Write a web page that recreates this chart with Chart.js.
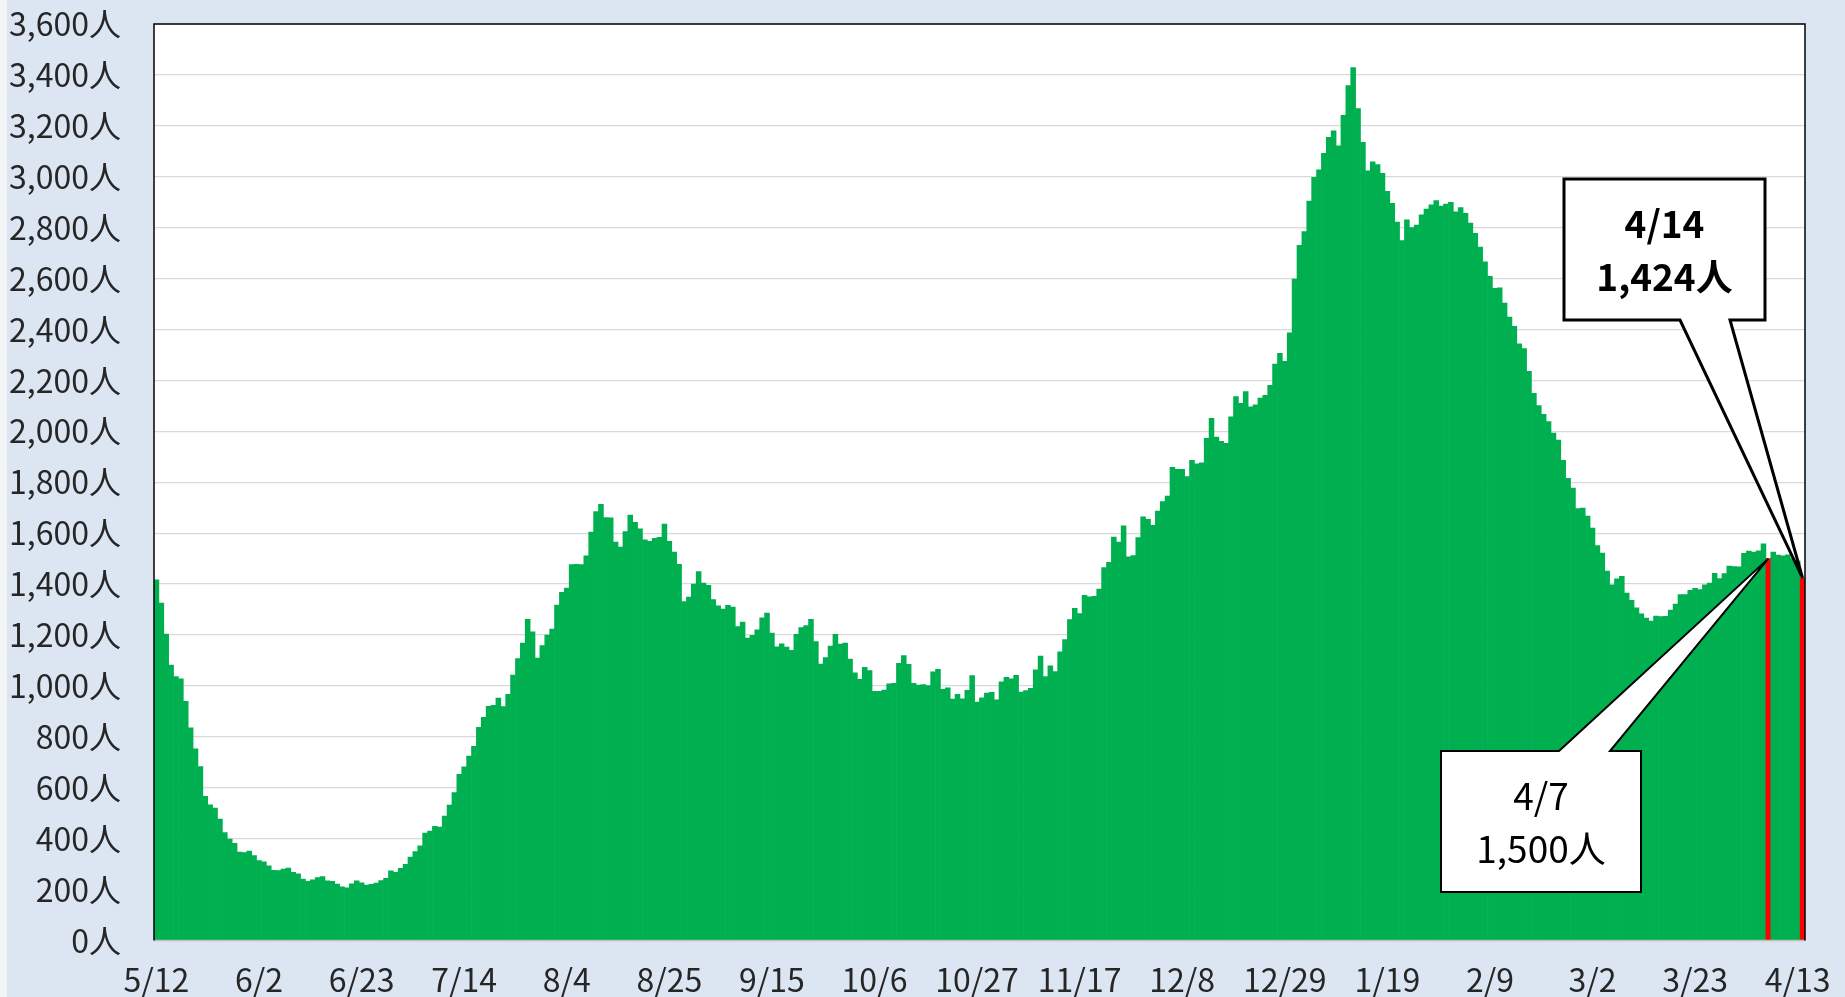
<!DOCTYPE html>
<html lang="ja">
<head>
<meta charset="utf-8">
<title>daily chart</title>
<script src="https://cdn.jsdelivr.net/npm/chart.js@4.4.1/dist/chart.umd.min.js"></script>
<style>
html, body { margin: 0; padding: 0; background: #DCE6F2; }
#wrap { width: 1845px; height: 997px; }
</style>
</head>
<body>
<div id="wrap"><canvas id="barchart" width="1845" height="997"></canvas></div>
<script>
// first day of the series (5/12), one bar per day
var startDay = [2020, 5, 12];

// values per month
var may = [1417, 1325, 1204, 1082, 1037, 1028, 939, 835, 753, 683, 566, 533, 520, 477, 424, 398, 382, 347, 345, 351];
var jun = [334, 314, 309, 293, 276, 275, 281, 284, 268, 262, 241, 232, 238, 247, 251, 234, 232, 222, 211, 207,
	223, 234, 227, 218, 221, 226, 235, 244, 274, 268];
var jul = [283, 299, 328, 349, 372, 422, 430, 448, 446, 489, 532, 581, 653, 682, 724, 763, 837, 877, 920, 924,
	952, 919, 967, 1043, 1107, 1168, 1262, 1212, 1109, 1158, 1200];
var aug = [1223, 1318, 1368, 1384, 1477, 1478, 1477, 1511, 1604, 1685, 1713, 1661, 1660, 1565, 1545, 1606, 1671, 1643, 1617, 1574,
	1568, 1580, 1584, 1636, 1568, 1526, 1478, 1331, 1349, 1400, 1449];
var sep = [1404, 1395, 1339, 1315, 1302, 1317, 1310, 1233, 1251, 1188, 1199, 1220, 1267, 1286, 1208, 1154, 1165, 1153, 1140, 1203,
	1229, 1237, 1262, 1174, 1086, 1111, 1156, 1203, 1164, 1168];
var oct = [1105, 1051, 1026, 1073, 1060, 979, 979, 984, 1008, 1010, 1089, 1119, 1085, 1010, 1003, 1005, 1001, 1055, 1065, 987,
	992, 948, 967, 949, 983, 1041, 937, 953, 972, 975, 945];
var nov = [1016, 1034, 1028, 1042, 976, 982, 991, 1063, 1117, 1037, 1079, 1056, 1134, 1182, 1261, 1305, 1284, 1356, 1350, 1352,
	1380, 1465, 1485, 1585, 1565, 1629, 1507, 1512, 1583, 1664];
var dec = [1654, 1631, 1687, 1724, 1746, 1859, 1851, 1851, 1822, 1886, 1872, 1876, 1973, 2051, 1977, 1961, 1953, 2057, 2137, 2110,
	2156, 2096, 2104, 2131, 2141, 2181, 2264, 2306, 2275, 2387, 2598];
var jan = [2731, 2785, 2904, 2998, 3027, 3092, 3155, 3180, 3121, 3241, 3358, 3429, 3268, 3135, 3023, 3059, 3048, 3013, 2943, 2896,
	2822, 2749, 2831, 2800, 2810, 2850, 2873, 2890, 2906, 2885, 2893];
var feb = [2900, 2862, 2879, 2856, 2818, 2778, 2724, 2666, 2609, 2562, 2564, 2504, 2449, 2412, 2344, 2325, 2236, 2149, 2101, 2067,
	2038, 1993, 1966, 1886, 1815, 1777, 1697, 1699];
var mar = [1667, 1620, 1551, 1522, 1451, 1397, 1421, 1430, 1365, 1336, 1307, 1283, 1266, 1255, 1274, 1272, 1273, 1298, 1321, 1359,
	1359, 1375, 1383, 1378, 1397, 1404, 1442, 1422, 1441, 1471, 1469];
var apr = [1468, 1521, 1530, 1526, 1531, 1558, 1500, 1526, 1514, 1511, 1515, 1500, 1490, 1424];

var tickLabels = ['5/12', '6/2', '6/23', '7/14', '8/4', '8/25', '9/15', '10/6', '10/27', '11/17', '12/8', '12/29',
	'1/19', '2/9', '3/2', '3/23', '4/13'];
var highlightDays = ['4/7', '4/14'];

var values = [].concat(may, jun, jul, aug, sep, oct, nov, dec, jan, feb, mar, apr);

var days = [];
for (var i = 0; i < values.length; i++) {
	var d = new Date(Date.UTC(startDay[0], startDay[1] - 1, startDay[2] + i));
	days.push((d.getUTCMonth() + 1) + '/' + d.getUTCDate());
}

var colors = days.map(function(d) {
	return highlightDays.indexOf(d) >= 0 ? '#FF0000' : '#00B050';
});

var fontFamily = "'Noto Sans CJK JP', 'Noto Sans', sans-serif";

function fmt(v) {
	return v.toLocaleString('en-US') + '人';
}

// callout boxes (pixel layout), pointing at the highlighted bars
var callouts = [
	{ day: '4/14', bold: true, lineWidth: 3, box: [1564, 179, 1765, 320], base: [1680, 1730], side: 'bottom' },
	{ day: '4/7', bold: false, lineWidth: 2, box: [1441, 751, 1641, 892], base: [1559, 1610], side: 'top' }
];

var framePlugin = {
	id: 'frame',
	beforeDraw: function(chart) {
		var ctx = chart.ctx, a = chart.chartArea;
		ctx.save();
		ctx.fillStyle = '#DCE6F2';
		ctx.fillRect(0, 0, chart.width, chart.height);
		ctx.fillStyle = '#F3F4F6';
		ctx.fillRect(0, 0, 7, chart.height);
		ctx.fillStyle = '#FFFFFF';
		ctx.fillRect(a.left, a.top, a.right - a.left, a.bottom - a.top);
		ctx.restore();
	},
	afterDatasetsDraw: function(chart) {
		var ctx = chart.ctx, a = chart.chartArea;
		ctx.save();
		ctx.strokeStyle = '#BFBFBF';
		ctx.lineWidth = 1.5;
		ctx.beginPath();
		ctx.moveTo(a.left, a.bottom);
		ctx.lineTo(a.right, a.bottom);
		ctx.stroke();
		ctx.strokeStyle = '#000000';
		ctx.beginPath();
		ctx.moveTo(a.left, a.bottom);
		ctx.lineTo(a.left, a.top);
		ctx.lineTo(a.right, a.top);
		ctx.lineTo(a.right, a.bottom);
		ctx.stroke();
		ctx.restore();
	}
};

var calloutPlugin = {
	id: 'callouts',
	afterDraw: function(chart) {
		var ctx = chart.ctx;
		var xs = chart.scales.x, ys = chart.scales.y;
		callouts.forEach(function(c) {
			var idx = days.indexOf(c.day);
			var tx = xs.getPixelForValue(idx);
			var ty = ys.getPixelForValue(values[idx]);
			var l = c.box[0], t = c.box[1], r = c.box[2], b = c.box[3];
			ctx.save();
			ctx.beginPath();
			if (c.side == 'bottom') {
				ctx.moveTo(l, t);
				ctx.lineTo(r, t);
				ctx.lineTo(r, b);
				ctx.lineTo(c.base[1], b);
				ctx.lineTo(tx, ty);
				ctx.lineTo(c.base[0], b);
				ctx.lineTo(l, b);
			} else {
				ctx.moveTo(l, t);
				ctx.lineTo(c.base[0], t);
				ctx.lineTo(tx, ty);
				ctx.lineTo(c.base[1], t);
				ctx.lineTo(r, t);
				ctx.lineTo(r, b);
				ctx.lineTo(l, b);
			}
			ctx.closePath();
			ctx.fillStyle = '#FFFFFF';
			ctx.fill();
			ctx.lineWidth = c.lineWidth;
			ctx.lineJoin = 'miter';
			ctx.strokeStyle = '#000000';
			ctx.stroke();

			ctx.fillStyle = '#000000';
			ctx.textAlign = 'center';
			ctx.textBaseline = 'middle';
			ctx.font = (c.bold ? 'bold ' : '') + '37px ' + fontFamily;
			var cx = (l + r) / 2;
			ctx.fillText(c.day, cx, t + 45);
			ctx.fillText(fmt(values[idx]), cx, t + 98);
			ctx.restore();
		});
	}
};

var barchart = {
	type: 'bar',
	data: {
		labels: days,
		datasets: [
			{
				data: values,
				backgroundColor: colors,
				borderWidth: 0,
				barPercentage: 1.0,
				categoryPercentage: 1.0
			}
		]
	},
	options: {
		responsive: false,
		animation: false,
		devicePixelRatio: 1,
		layout: {
			padding: { left: 0, right: 40, top: 24, bottom: 0 }
		},
		plugins: {
			legend: { display: false },
			tooltip: { enabled: false }
		},
		scales: {
			x: {
				grid: { display: false, drawTicks: false },
				border: { display: false },
				ticks: {
					autoSkip: false,
					maxRotation: 0,
					minRotation: 0,
					padding: 20,
					color: '#262626',
					font: { family: fontFamily, size: 32 },
					callback: function(v) {
						var lab = this.getLabelForValue(v);
						return tickLabels.indexOf(lab) >= 0 ? lab : null;
					}
				},
				afterFit: function(s) {
					s.height = 56.5;
					s.paddingLeft = 0;
					s.paddingRight = 0;
				}
			},
			y: {
				min: 0,
				max: 3600,
				grid: { color: '#D9D9D9', lineWidth: 1.3, drawTicks: false },
				border: { display: false },
				ticks: {
					stepSize: 200,
					padding: 33,
					color: '#262626',
					font: { family: fontFamily, size: 32 },
					callback: function(v) { return fmt(v); }
				},
				afterFit: function(s) {
					s.width = 154;
					s.paddingTop = 0;
					s.paddingBottom = 0;
				}
			}
		}
	},
	plugins: [framePlugin, calloutPlugin]
};

window.onload = function() {
	var ctx = document.getElementById('barchart').getContext('2d');
	window.myBar = new Chart(ctx, barchart);
};
</script>
</body>
</html>
